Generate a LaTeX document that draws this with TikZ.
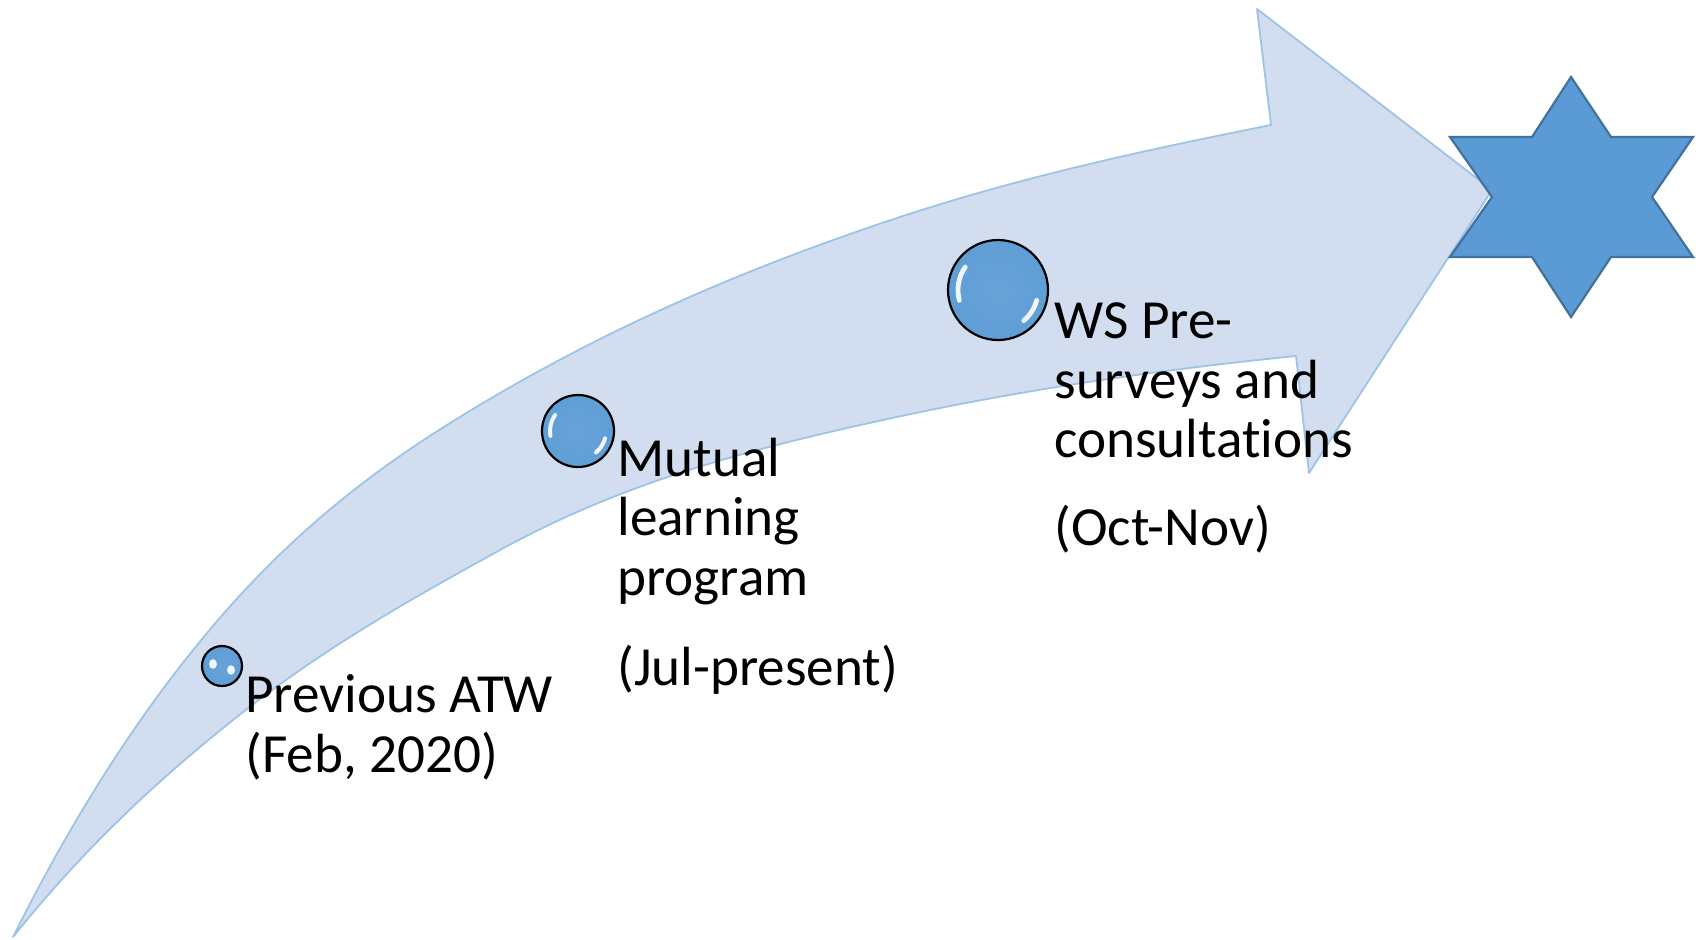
\documentclass[tikz,border=0pt]{standalone}
\usepackage{fontspec}
\setmainfont{Carlito}[Ligatures=NoCommon]
\definecolor{bandfill}{HTML}{D2DEEF}
\definecolor{bandedge}{HTML}{9DC3E6}
\definecolor{accent}{HTML}{5B9BD5}
\definecolor{staredge}{HTML}{41719C}
\pgfdeclareradialshading{bubbleshade}{\pgfpoint{0bp}{0bp}}{color(0bp)=(accent!92!white); color(36bp)=(accent); color(44bp)=(accent); color(50bp)=(accent!55!white)}
\tikzset{
  band/.style={fill=bandfill, draw=bandedge, line width=0.9pt, line join=round},
  starshape/.style={fill=accent, draw=staredge, line width=1.1pt, line join=miter},
  bubble/.style={circle, inner sep=0pt, shading=bubbleshade, draw=black, line width=1.1pt},
  glint/.style={draw=white, line cap=round, opacity=0.9},
  lbl/.style={anchor=base west, align=left, inner sep=0pt, text=black,
    font=\fontsize{27.6pt}{29.75pt}\selectfont}
}
\begin{document}
\begin{tikzpicture}[x=0.5pt,y=-0.5pt]
\useasboundingbox (0,0) rectangle (1700,939);

% curved arrow
\path[band] (13,937)
  .. controls (77.7,807.6) and (142.3,710.6) .. (207,633)
  .. controls (304.7,515.8) and (402.3,449.7) .. (500,393)
  .. controls (633.3,315.7) and (766.7,261) .. (900,217)
  .. controls (1023.7,176.2) and (1147.3,149.7) .. (1271,125)
  -- (1257,9) -- (1492,190) -- (1309,473) -- (1296,356)
  .. controls (1158.3,369.8) and (1020.7,389.7) .. (883,420)
  .. controls (755.3,448.1) and (627.7,479.8) .. (500,550)
  .. controls (411,599) and (322,648.8) .. (233,720)
  .. controls (159.7,778.6) and (86.3,845.4) .. (13,937)
  -- cycle;

% star
\path[starshape] (1571,77) -- (1611,137) -- (1693,137) -- (1652,197) -- (1693,257) -- (1611,257)
  -- (1571,317) -- (1532,257) -- (1450,257) -- (1492,197) -- (1450,137) -- (1532,137) -- cycle;

% bubbles
\node[bubble, minimum size=20pt] (b1) at (222,666) {};
\fill[white, opacity=0.9] (213,664) ellipse (2pt and 2.4pt);
\fill[white, opacity=0.9] (231,670) ellipse (2pt and 2.4pt);

\node[bubble, minimum size=36pt] (b2) at (578,431) {};
\draw[glint, line width=2pt] ([shift={(170:28)}]b2.center) arc[start angle=170, end angle=215, radius=28];
\draw[glint, line width=2pt] ([shift={(15:28)}]b2.center) arc[start angle=15, end angle=50, radius=28];

\node[bubble, minimum size=50pt] (b3) at (998,290) {};
\draw[glint, line width=2.4pt] ([shift={(165:40)}]b3.center) arc[start angle=165, end angle=215, radius=40];
\draw[glint, line width=2.4pt] ([shift={(15:40)}]b3.center) arc[start angle=15, end angle=50, radius=40];

% labels (base anchor = baseline of the last line)
\node[lbl] (t1) at (245,772) {Previous ATW\\(Feb, 2020)};
\node[lbl] (t2) at (617,685) {Mutual\\learning\\program\\[15.25pt](Jul-present)};
\node[lbl] (t3) at (1054,545) {WS Pre-\\surveys and\\consultations\\[14pt](Oct-Nov)};
\end{tikzpicture}
\end{document}
